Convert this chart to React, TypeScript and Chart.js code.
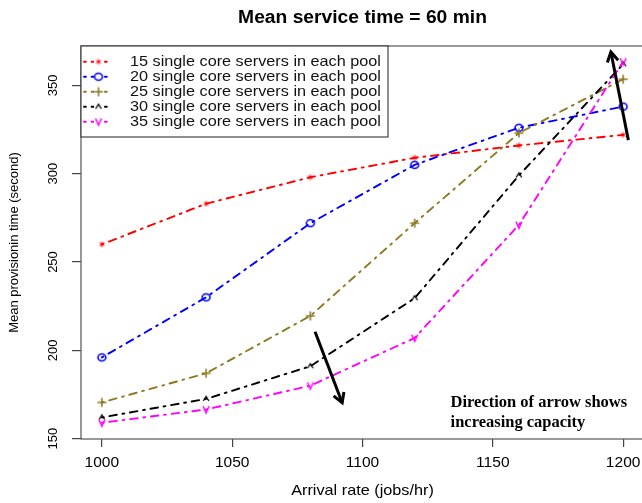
import { useEffect, useRef } from "react";
import { Chart, registerables } from "chart.js";

Chart.register(...registerables);

// Arrival rates (jobs/hr) and mean provisioning times (s) per pool size
const arrivalRates = [1000, 1040, 1080, 1120, 1160, 1200];
const pool15 = [260, 283, 298, 309, 316, 322];
const pool20 = [196, 230, 272, 305, 326, 338];
const pool25 = [170.5, 187, 219.5, 272, 323, 353.5];
const pool30 = [162, 172.5, 191, 229.5, 299, 362];
const pool35 = [159, 166.5, 180, 207, 271, 363.5];

const seriesLabels = [
  "15 single core servers in each pool",
  "20 single core servers in each pool",
  "25 single core servers in each pool",
  "30 single core servers in each pool",
  "35 single core servers in each pool",
];
const seriesColors = ["#ff0000", "#0000ff", "#8b7a22", "#000000", "#ff00ff"];
const seriesMarkers = ["star", "circle", "plus", "caret", "vee"];

const xTicks = [1000, 1050, 1100, 1150, 1200];
const yTicks = [150, 200, 250, 300, 350];
const xRange = [992, 1208];
const yRange = [149.8, 372.3];

const titleText = "Mean service time = 60 min";
const xTitle = "Arrival rate (jobs/hr)";
const yTitle = "Mean provisionin time (second)";
const noteLines = ["Direction of arrow shows", "increasing capacity"];
const noteAnchor = [1133.8, 167.9];

// Arrows in data units: [x0, y0, x1, y1]; the head sits at (x1, y1)
const arrowDown = [1081.8, 210.5, 1092.2, 170.3];
const arrowUp = [1202, 319, 1195.3, 368.9];

const DASH = [1.9, 5.7, 7.6, 5.7];
const SANS = "'Liberation Sans', Arial, sans-serif";
const SERIF = "'Liberation Serif', 'Times New Roman', serif";

function makeMarker(kind: string, color: string): HTMLCanvasElement {
  const c = document.createElement("canvas");
  c.width = 14;
  c.height = 14;
  const g = c.getContext("2d")!;
  g.translate(7, 7);
  g.strokeStyle = color;
  g.lineCap = "butt";
  g.beginPath();
  if (kind === "star") {
    g.lineWidth = 1;
    for (let k = 0; k < 3; k++) {
      const a = Math.PI / 2 + (k * Math.PI) / 3;
      g.moveTo(Math.cos(a) * 2.8, Math.sin(a) * 2.8);
      g.lineTo(-Math.cos(a) * 2.8, -Math.sin(a) * 2.8);
    }
  } else if (kind === "circle") {
    g.lineWidth = 1.6;
    g.ellipse(0, 0, 3.9, 3.5, 0, 0, Math.PI * 2);
  } else if (kind === "plus") {
    g.lineWidth = 1.6;
    g.moveTo(-4.5, 0);
    g.lineTo(4.5, 0);
    g.moveTo(0, -4.5);
    g.lineTo(0, 4.5);
  } else if (kind === "caret") {
    g.lineWidth = 1.3;
    g.moveTo(-2.8, 2);
    g.lineTo(0, -2.6);
    g.lineTo(2.8, 2);
  } else {
    g.lineWidth = 1.4;
    g.moveTo(-3, -3.4);
    g.lineTo(0, 3.4);
    g.lineTo(3, -3.4);
  }
  g.stroke();
  return c;
}

function stretchedText(
  ctx: CanvasRenderingContext2D,
  text: string,
  x: number,
  y: number,
  sx: number,
  align: CanvasTextAlign
) {
  ctx.save();
  ctx.translate(x, y);
  ctx.scale(sx, 1);
  ctx.textAlign = align;
  ctx.fillText(text, 0, 0);
  ctx.restore();
}

function drawArrow(ctx: CanvasRenderingContext2D, x0: number, y0: number, x1: number, y1: number) {
  const ang = Math.atan2(y1 - y0, x1 - x0);
  const len = 11;
  const spread = Math.PI / 6;
  ctx.beginPath();
  ctx.moveTo(x0, y0);
  ctx.lineTo(x1, y1);
  ctx.stroke();
  ctx.beginPath();
  ctx.moveTo(x1 - len * Math.cos(ang - spread), y1 - len * Math.sin(ang - spread));
  ctx.lineTo(x1, y1);
  ctx.lineTo(x1 - len * Math.cos(ang + spread), y1 - len * Math.sin(ang + spread));
  ctx.stroke();
}

export default function App() {
  const canvasRef = useRef<HTMLCanvasElement>(null);

  useEffect(() => {
    const canvas = canvasRef.current;
    if (!canvas) return;

    const series = [pool15, pool20, pool25, pool30, pool35];
    const markers = seriesMarkers.map((m, i) => makeMarker(m, seriesColors[i]));

    const decorations = {
      id: "decorations",
      afterDraw(chart: any) {
        const ctx: CanvasRenderingContext2D = chart.ctx;
        const area = chart.chartArea;
        const xs = chart.scales.x;
        const ys = chart.scales.y;
        ctx.save();

        // plot frame
        ctx.strokeStyle = "#555";
        ctx.lineWidth = 1.2;
        ctx.strokeRect(area.left, area.top, area.right - area.left, area.bottom - area.top);

        ctx.fillStyle = "#000";
        ctx.textBaseline = "middle";

        // title
        ctx.font = `bold 17.5px ${SANS}`;
        stretchedText(ctx, titleText, (area.left + area.right) / 2, 18, 1.1, "center");

        // x tick labels and title
        ctx.font = `14px ${SANS}`;
        xTicks.forEach((v) => stretchedText(ctx, String(v), xs.getPixelForValue(v), 463, 1.11, "center"));
        ctx.font = `14.5px ${SANS}`;
        stretchedText(ctx, xTitle, (area.left + area.right) / 2, 491, 1.12, "center");

        // y tick labels and title (rotated)
        ctx.font = `13px ${SANS}`;
        yTicks.forEach((v) => {
          ctx.save();
          ctx.translate(53, ys.getPixelForValue(v));
          ctx.rotate(-Math.PI / 2);
          ctx.textAlign = "center";
          ctx.fillText(String(v), 0, 0);
          ctx.restore();
        });
        ctx.save();
        ctx.translate(14, (area.top + area.bottom) / 2);
        ctx.rotate(-Math.PI / 2);
        ctx.textAlign = "center";
        ctx.fillText(yTitle, 0, 0);
        ctx.restore();

        // legend
        const lx0 = area.left;
        const lx1 = 388;
        const ly0 = area.top;
        const ly1 = 137;
        ctx.fillStyle = "#fff";
        ctx.fillRect(lx0, ly0, lx1 - lx0, ly1 - ly0);
        ctx.strokeStyle = "#333";
        ctx.lineWidth = 1.1;
        ctx.strokeRect(lx0, ly0, lx1 - lx0, ly1 - ly0);
        seriesLabels.forEach((label, i) => {
          const y = 61.7 + i * 15;
          ctx.save();
          ctx.strokeStyle = seriesColors[i];
          ctx.lineWidth = 1.9;
          ctx.lineCap = "round";
          ctx.setLineDash(DASH);
          ctx.beginPath();
          ctx.moveTo(84, y);
          ctx.lineTo(112, y);
          ctx.stroke();
          ctx.restore();
          ctx.fillStyle = "#fff";
          ctx.fillRect(94, y - 4.5, 9, 9);
          ctx.drawImage(markers[i], 98.5 - 7, y - 7);
          ctx.fillStyle = "#111";
          ctx.font = `14.5px ${SANS}`;
          stretchedText(ctx, label, 130, y, 1.12, "left");
        });

        // arrows
        ctx.strokeStyle = "#000";
        ctx.lineWidth = 3;
        ctx.lineJoin = "miter";
        [arrowDown, arrowUp].forEach((a) =>
          drawArrow(
            ctx,
            xs.getPixelForValue(a[0]),
            ys.getPixelForValue(a[1]),
            xs.getPixelForValue(a[2]),
            ys.getPixelForValue(a[3])
          )
        );

        // note
        ctx.fillStyle = "#000";
        ctx.textBaseline = "alphabetic";
        ctx.font = `bold 16px ${SERIF}`;
        const nx = xs.getPixelForValue(noteAnchor[0]);
        const ny = ys.getPixelForValue(noteAnchor[1]);
        noteLines.forEach((t, i) => stretchedText(ctx, t, nx, ny + i * 20, 1.03, "left"));

        ctx.restore();
      },
    };

    const chart = new Chart(canvas, {
      type: "line",
      data: {
        datasets: series.map((vals, i) => ({
          label: seriesLabels[i],
          data: arrivalRates.map((x, j) => ({ x, y: vals[j] })),
          borderColor: seriesColors[i],
          backgroundColor: seriesColors[i],
          borderWidth: 1.9,
          borderDash: DASH,
          borderCapStyle: "round",
          pointStyle: markers[i],
          pointRadius: 5,
          tension: 0,
          fill: false,
          order: 5 - i,
        })),
      },
      options: {
        responsive: false,
        devicePixelRatio: 1,
        animation: false,
        events: [],
        layout: { padding: { top: 46, right: 16, left: 0, bottom: 0 } },
        plugins: {
          legend: { display: false },
          title: { display: false },
          tooltip: { enabled: false },
        },
        scales: {
          x: {
            type: "linear",
            min: xRange[0],
            max: xRange[1],
            afterBuildTicks: (s: any) => {
              s.ticks = xTicks.map((v) => ({ value: v }));
            },
            afterFit: (s: any) => {
              s.height = 64;
            },
            ticks: { display: false },
            border: { display: false },
            grid: { drawOnChartArea: false, drawTicks: true, tickLength: 8, color: "#444", lineWidth: 1.2 },
          },
          y: {
            type: "linear",
            min: yRange[0],
            max: yRange[1],
            afterBuildTicks: (s: any) => {
              s.ticks = yTicks.map((v) => ({ value: v }));
            },
            afterFit: (s: any) => {
              s.width = 81;
            },
            ticks: { display: false },
            border: { display: false },
            grid: { drawOnChartArea: false, drawTicks: true, tickLength: 9, color: "#444", lineWidth: 1.2 },
          },
        },
      },
      plugins: [decorations],
    });

    return () => chart.destroy();
  }, []);

  return (
    <div style={{ position: "fixed", left: 0, top: 0, width: 660, height: 503, background: "#fff" }}>
      <canvas ref={canvasRef} width={660} height={503} style={{ display: "block" }} />
    </div>
  );
}
